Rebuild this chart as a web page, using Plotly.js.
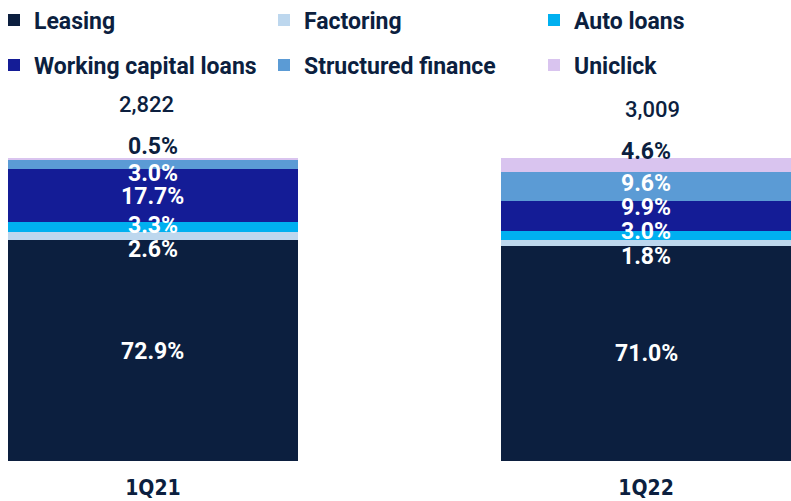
<!DOCTYPE html>
<html>
<head>
<meta charset="utf-8">
<script src="https://cdn.plot.ly/plotly-3.0.1.min.js"></script>
<style>html,body{margin:0;padding:0;background:#fff;}#chart{width:791px;height:501px;}</style>
</head>
<body>
<div id="chart"></div>
<script>
const categories = ['1Q21', '1Q22'];
const totals = [2822, 3009];
const leasing = [72.9, 71.0];
const factoring = [2.6, 1.8];
const autoLoans = [3.3, 3.0];
const workingCapital = [17.7, 9.9];
const structuredFinance = [3.0, 9.6];
const uniclick = [0.5, 4.6];

const seriesNames = ['Leasing', 'Factoring', 'Auto loans', 'Working capital loans', 'Structured finance', 'Uniclick'];
const seriesValues = [leasing, factoring, autoLoans, workingCapital, structuredFinance, uniclick];
const colors = ['#0c1f3f', '#bdd7ee', '#00b0f0', '#141c96', '#5b9bd5', '#d9c4ef'];
const labelColors = ['#ffffff', '#ffffff', '#ffffff', '#ffffff', '#ffffff', '#0c1f3f'];
// label pixel nudges (style), per series per category
const labelShift = [[-1, 0], [-13, -13], [2, 4], [-1, 9], [-9, 3], [12, 14]];

const navy = '#0c1f3f';
const font = 'Roboto, "DejaVu Sans", sans-serif';
const plotLeft = 8, plotWidth = 783, plotHeight = 461;

const legendIds = ['legend', 'legend2', 'legend3', 'legend4', 'legend5', 'legend6'];
const traces = seriesNames.map((name, i) => ({
  type: 'bar',
  name: name,
  x: categories,
  y: seriesValues[i],
  marker: {color: colors[i], line: {width: 0}},
  legend: legendIds[i],
  hoverinfo: 'skip'
}));

const annotations = [];
categories.forEach((c, ci) => {
  let cum = 0;
  seriesValues.forEach((vals, si) => {
    const v = vals[ci];
    annotations.push({
      x: c, y: cum + v / 2, xref: 'x', yref: 'y',
      text: v.toFixed(1) + '%', showarrow: false,
      yshift: labelShift[si][ci],
      font: {family: font, size: 23, color: labelColors[si], weight: 'bold'}
    });
    cum += v;
  });
  annotations.push({
    x: c, y: cum, xref: 'x', yref: 'y',
    text: totals[ci].toLocaleString('en-US'), showarrow: false,
    xshift: ci === 0 ? -6 : 6, yshift: ci === 0 ? 54 : 49,
    font: {family: font, size: 22, color: navy, weight: 500}
  });
});

const layout = {
  width: 791, height: 501,
  margin: {l: plotLeft, r: 0, t: 0, b: 40, autoexpand: false},
  paper_bgcolor: '#ffffff', plot_bgcolor: '#ffffff',
  barmode: 'stack',
  bargap: 0.412,
  showlegend: true,
  xaxis: {
    type: 'category', range: [-0.294, 1.294], automargin: false,
    showgrid: false, zeroline: false, showline: false, ticks: '',
    tickfont: {family: '"Liberation Sans Narrow", "DejaVu Sans Condensed", sans-serif', size: 21, color: navy, weight: 'bold'},
    ticklabelstandoff: 12
  },
  yaxis: {
    range: [0, plotHeight / 3.03], visible: false, showgrid: false, zeroline: false, automargin: false
  },
  annotations: annotations
};

// legend grid: 3 columns x 2 rows (pixel layout -> paper coords)
const colPx = [-6, 264, 534];
const rowPx = [20, 65];
legendIds.forEach((id, i) => {
  layout[id] = {
    orientation: 'h', xanchor: 'left', yanchor: 'middle',
    x: (colPx[i % 3] - plotLeft) / plotWidth,
    y: 1 - rowPx[Math.floor(i / 3)] / plotHeight,
    font: {family: font, size: 23, color: navy, weight: 'bold'},
    bgcolor: 'rgba(0,0,0,0)'
  };
});

Plotly.newPlot('chart', traces, layout, {displayModeBar: false, staticPlot: true});
</script>
</body>
</html>
